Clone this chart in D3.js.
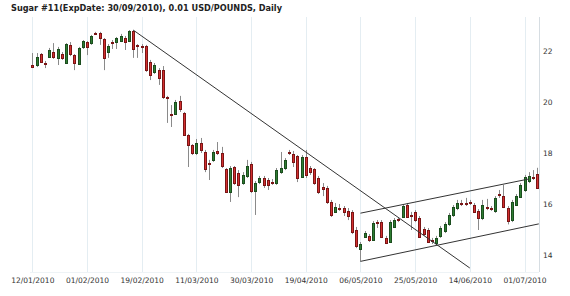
<!DOCTYPE html>
<html><head><meta charset="utf-8">
<script src="https://cdn.jsdelivr.net/npm/d3@7"></script>
<style>body{margin:0;background:#fff}svg{display:block}</style>
</head><body>
<svg id="c" width="570" height="296"></svg>
<script>
const title = "Sugar #11(ExpDate: 30/09/2010), 0.01 USD/POUNDS, Daily";
const tickLabels = ["12/01/2010","01/02/2010","19/02/2010","11/03/2010","30/03/2010","19/04/2010","06/05/2010","25/05/2010","14/06/2010","01/07/2010"];
const tickStep = 13;
const yTicks = [14,16,18,20,22];
const open = [21.45,21.45,21.88,21.53,21.76,21.96,21.73,21.88,21.53,22.24,21.84,21.49,22.16,22.35,22.31,22.71,22.71,22.47,21.96,22.35,22.35,22.39,22.51,22.39,22.78,22.24,22.20,22.20,21.57,21.18,21.25,21.25,20.20,19.53,19.53,20.04,19.57,18.71,18.31,18.00,18.39,18.04,17.61,17.73,18.08,18.00,17.37,16.47,17.45,17.22,16.82,17.10,17.57,16.51,16.86,17.02,16.94,16.86,16.82,17.25,17.41,18.04,17.96,17.88,17.06,17.84,17.41,17.37,17.02,16.67,16.63,16.08,15.69,15.84,15.84,15.73,15.69,14.98,14.24,14.72,14.75,14.59,15.31,15.31,14.67,14.52,15.11,15.40,15.48,15.96,15.57,15.70,15.45,15.02,14.98,14.59,14.50,14.72,14.91,15.20,15.57,15.83,16.03,16.04,16.07,15.96,15.73,15.44,15.88,15.84,15.70,16.38,16.33,15.83,15.37,15.99,16.29,16.55,16.90,17.07,17.16];
const high = [21.92,21.92,21.92,21.61,22.12,22.31,22.16,21.96,22.31,22.35,21.88,22.16,22.43,22.39,22.63,22.75,22.75,22.51,22.27,22.43,22.55,22.67,22.59,22.82,22.82,22.27,22.27,22.24,21.65,21.53,21.33,21.41,20.24,19.88,20.08,20.24,19.61,18.75,18.35,18.55,18.59,18.12,17.73,18.12,18.43,18.24,17.41,17.49,17.49,17.33,17.25,17.73,17.65,16.90,17.10,17.10,17.02,16.98,17.41,18.04,17.80,18.12,18.08,17.92,17.92,18.12,17.49,17.41,17.10,16.82,16.71,16.16,16.04,16.00,15.92,15.84,15.76,15.10,14.51,14.94,14.82,15.33,15.37,15.37,14.75,15.37,15.45,15.45,16.00,16.04,15.69,15.76,15.53,15.10,15.06,14.67,14.75,15.14,15.29,15.65,15.96,16.16,16.16,16.24,16.16,16.04,15.80,16.16,16.20,15.92,16.31,16.55,16.75,15.92,16.16,16.39,16.82,17.14,17.25,17.33,17.42];
const low = [21.33,21.37,21.53,21.33,21.73,21.69,21.45,21.65,21.49,21.80,21.25,21.45,22.08,21.84,22.24,22.63,22.24,21.25,21.73,22.08,22.08,22.35,22.04,22.35,21.73,21.73,21.92,21.18,20.86,21.10,20.67,20.12,19.18,19.02,19.49,19.61,18.67,17.45,17.92,17.92,18.00,17.25,16.94,17.65,17.92,17.41,16.43,16.08,16.75,16.27,16.75,17.02,16.43,15.57,16.78,16.63,16.55,16.75,16.75,17.18,17.33,17.92,17.45,16.86,17.02,17.02,17.14,16.75,16.39,16.31,16.00,15.49,15.65,15.73,15.53,15.37,14.82,14.27,13.75,14.67,14.51,14.55,15.06,14.67,14.43,14.47,15.06,15.29,15.45,15.45,14.98,15.29,14.67,14.75,14.47,14.43,14.43,14.67,14.86,15.14,15.49,15.76,15.92,15.92,15.96,15.65,14.98,15.37,15.76,15.73,15.65,16.24,15.84,15.20,15.29,15.92,16.24,16.47,16.82,16.94,16.59];
const close = [21.37,21.76,21.57,21.49,22.04,21.76,22.08,21.73,22.27,21.88,21.53,22.12,22.39,22.16,22.59,22.67,22.51,21.73,22.20,22.31,22.51,22.59,22.35,22.78,22.08,22.22,22.18,21.25,21.06,21.45,20.94,20.20,20.18,19.51,20.00,19.73,18.71,18.31,18.00,18.39,18.12,17.37,17.57,18.04,18.00,17.49,16.47,17.41,16.82,16.75,17.14,17.49,16.51,16.82,17.02,16.75,16.75,16.84,17.33,17.41,17.73,18.02,17.65,17.02,17.84,17.14,17.25,16.82,16.47,16.59,16.08,15.57,15.88,15.82,15.69,15.53,14.90,14.35,14.43,14.86,14.59,15.27,15.29,14.72,14.48,15.31,15.37,15.38,15.92,15.50,15.55,15.37,14.72,14.82,14.52,14.57,14.68,15.05,15.20,15.57,15.89,16.04,16.01,16.02,16.05,15.70,15.44,15.96,15.86,15.82,16.22,16.36,15.89,15.31,16.09,16.33,16.75,17.07,17.10,17.05,16.62];
// trend lines as [barIndex, price] pairs
const downTrend = [[24,22.82],[104,13.49]];
const channelTop = [[78,15.64],[118,16.98]];
const channelBottom = [[78,13.75],[120.4,15.22]];

const svg = d3.select("#c");
const plotTop = 17, plotBottom = 272, rightEdge = 539;
const x = d3.scaleLinear().domain([0,117]).range([32.3,524.5]);
const y = d3.scaleLinear().domain([14,22]).range([255,51]);
const tickIdx = tickLabels.map((d,i)=>i*tickStep);

// vertical gridlines
svg.append("g").selectAll("line").data(tickIdx).join("line")
  .attr("x1",d=>Math.round(x(d))+0.5).attr("x2",d=>Math.round(x(d))+0.5)
  .attr("y1",plotTop).attr("y2",plotBottom).attr("stroke","#e4edf2").attr("stroke-width",1);
svg.append("line").attr("x1",rightEdge+0.5).attr("x2",rightEdge+0.5).attr("y1",plotTop).attr("y2",plotBottom)
  .attr("stroke","#d6dde2");
svg.append("line").attr("x1",30).attr("x2",rightEdge).attr("y1",plotBottom+0.5).attr("y2",plotBottom+0.5)
  .attr("stroke","#eef3f6");

// x axis labels
const xAxis = d3.axisBottom(x).tickValues(tickIdx).tickFormat((d,i)=>tickLabels[i]).tickSize(0).tickPadding(0);
const gx = svg.append("g").attr("transform",`translate(0,${plotBottom+6})`).call(xAxis);
gx.select(".domain").remove();
gx.selectAll("text").attr("font-family","DejaVu Sans").attr("font-size","7.5px").attr("fill","#333").attr("dy","0.71em");

// y axis labels
const yAxis = d3.axisRight(y).tickValues(yTicks).tickSize(0).tickPadding(0);
const gy = svg.append("g").attr("transform",`translate(${rightEdge+4},0)`).call(yAxis);
gy.select(".domain").remove();
gy.selectAll("text").attr("font-family","DejaVu Sans").attr("font-size","7.5px").attr("fill","#333");

// candles
const idx = d3.range(open.length);
const cg = svg.append("g");
cg.selectAll("line.w").data(idx).join("line").attr("class","w")
  .attr("x1",i=>Math.round(x(i))+0.5).attr("x2",i=>Math.round(x(i))+0.5)
  .attr("y1",i=>y(high[i])).attr("y2",i=>y(low[i]))
  .attr("stroke","#8a8a8a").attr("stroke-width",1);
cg.selectAll("rect").data(idx).join("rect")
  .attr("x",i=>Math.round(x(i))-1+0.5)
  .attr("y",i=>Math.round(y(Math.max(open[i],close[i])))+0.5)
  .attr("width",2)
  .attr("height",i=>Math.max(0,Math.round(Math.abs(y(open[i])-y(close[i])))))
  .attr("fill",i=>close[i]>=open[i]?"#2e7d32":"#d32f2f")
  .attr("stroke",i=>close[i]>=open[i]?"#1b4d1e":"#7a1515")
  .attr("stroke-width",1);

// trend lines
const line = d3.line().x(d=>x(d[0])).y(d=>y(d[1]));
[downTrend,channelTop,channelBottom].forEach(l=>{
  svg.append("path").attr("d",line(l)).attr("fill","none").attr("stroke","#333").attr("stroke-width",1);
});

// title
svg.append("text").attr("x",11).attr("y",11).text(title)
  .attr("font-family","DejaVu Sans").attr("font-weight","bold").attr("font-size","8.5px")
  .attr("fill","#222").attr("textLength",271).attr("lengthAdjust","spacingAndGlyphs");
</script>
</body></html>
